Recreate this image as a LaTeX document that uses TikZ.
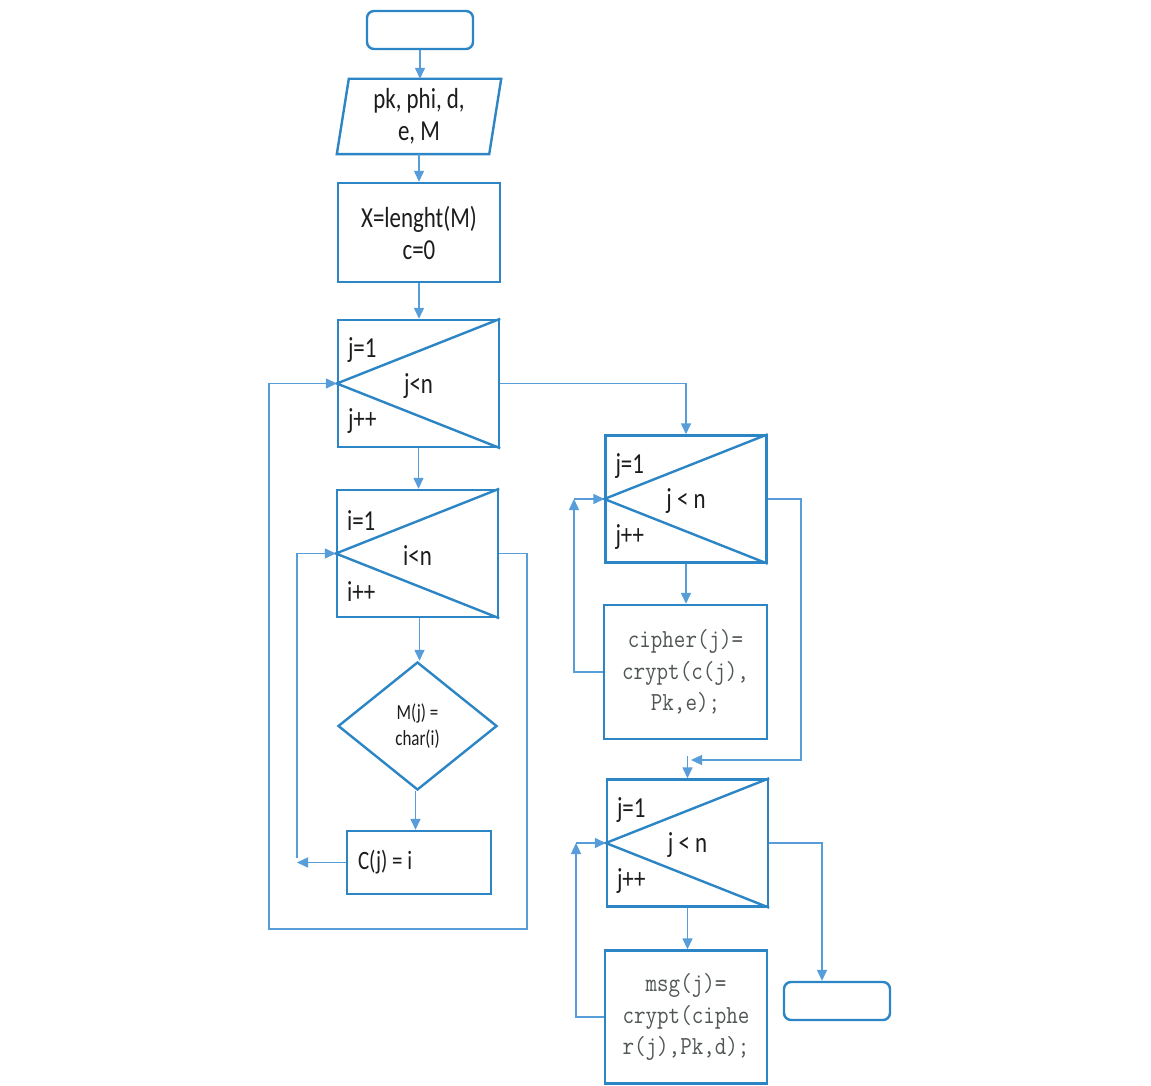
\documentclass[tikz,border=0pt]{standalone}
\usepackage{fontspec}
\setmainfont{Carlito}
\usetikzlibrary{arrows.meta,shapes.geometric}
\definecolor{bord}{RGB}{44,133,196}
\definecolor{conn}{RGB}{86,157,217}
\definecolor{txt}{RGB}{28,28,28}
\definecolor{codetxt}{RGB}{80,86,86}
\newcommand\sqz[1]{\scalebox{0.79}[1]{#1}}
\newcommand\sqm[1]{\scalebox{0.86}[1]{#1}}
\newcommand\loopbox[6]{%
  \node[lbox] (#1) at (#2,#3) {};
  \draw[boxline] (#1.north east) -- (#1.west) -- (#1.south east);
  \node[ltext, anchor=west] (#1-a) at ([xshift=11pt,yshift=33pt]#1.west) {\sqz{#4}};
  \node[ltext] (#1-b) at ([yshift=-2.5pt]#1.center) {\sqz{#5}};
  \node[ltext, anchor=west] (#1-c) at ([xshift=11pt,yshift=-38pt]#1.west) {\sqz{#6}};
}
\begin{document}
\begin{tikzpicture}[x=1pt,y=-1pt,
  boxline/.style={draw=bord,line width=2.4pt},
  proc/.style={boxline,inner sep=0pt,align=center,text=txt,font=\fontsize{29}{32}\selectfont},
  term/.style={boxline,rounded corners=7pt,minimum width=106pt,minimum height=38pt},
  lbox/.style={boxline,minimum width=161pt,minimum height=127pt,inner sep=0pt},
  ltext/.style={inner sep=0pt,text=txt,font=\fontsize{29}{32}\selectfont},
  code/.style={boxline,inner sep=0pt,align=center,text=codetxt,font=\ttfamily\fontsize{26}{31.5}\selectfont},
  arr/.style={draw=conn,line width=1.4pt,-{Triangle[length=11pt,width=10pt]}},
  cline/.style={draw=conn,line width=1.4pt}]
\fill[white] (0,0) rectangle (1151,1086);
\useasboundingbox (0,0) rectangle (1151,1086);

% left column
\node[term] (start) at (420,30) {};
\node[proc, draw=none, minimum width=150pt, minimum height=73pt] (inp) at (419,116.5) {\sqz{pk, phi, d,}\\\sqz{e, M}};
\draw[boxline] ([xshift=6pt]inp.north west) -- ([xshift=6pt]inp.north east) -- ([xshift=-6pt]inp.south east) -- ([xshift=-6pt]inp.south west) -- cycle;
\node[proc, minimum width=162pt, minimum height=99pt] (init) at (419,232.5) {\sqz{X=lenght(M)}\\\sqz{c=0}};
\loopbox{b1}{418.5}{383.5}{j=1}{j<n}{j++}
\loopbox{b2}{417.5}{553.5}{i=1}{i<n}{i++}
\node[boxline, diamond, minimum width=159pt, minimum height=128pt, inner sep=0pt, align=center, text=txt, font=\fontsize{21.5}{26}\selectfont] (dia) at (417.5,726) {\sqz{M(j) =}\\\sqz{char(i)}};
\node[boxline, minimum width=144pt, minimum height=63pt, inner sep=0pt] (cj) at (419,862.5) {};
\node[anchor=west, inner sep=0pt, text=txt, font=\fontsize{26.5}{30}\selectfont] (cj-t) at ([xshift=12pt]cj.west) {\sqz{C(j) = i}};

% right column
\loopbox{b3}{686}{499}{j=1}{j < n}{j++}
\node[code, minimum width=163pt, minimum height=134pt] (ciph) at (685.5,672) {\sqm{cipher(j)=}\\\sqm{crypt(c(j),}\\\sqm{Pk,e);}};
\loopbox{b4}{687.5}{843}{j=1}{j < n}{j++}
\node[code, minimum width=162pt, minimum height=133pt] (msg) at (686,1017) {\sqm{msg(j)=}\\\sqm{crypt(ciphe}\\\sqm{r(j),Pk,d);}};
\node[term] (end) at (837,1001) {};

% connectors
\draw[arr] (start.south) -- (start.south |- inp.north);
\draw[arr] (inp.south) -- (init.north);
\draw[arr] (init.south) -- (init.south |- b1.north);
\draw[arr] (b1.south) -- (b1.south |- b2.north);
\draw[arr] ([xshift=2pt]b2.south) -- ([xshift=2pt]b2.south |- dia.north);
\draw[arr] ([xshift=-2pt]dia.south) -- ([xshift=-2pt]dia.south |- cj.north);
\coordinate (ret1) at (297,862.5);
\draw[arr] (cj.west) -- (ret1);
\draw[arr] ([yshift=5pt]ret1) |- (b2.west);
\coordinate (o1) at (527,929);
\coordinate (o2) at (269,929);
\draw[arr] (b2.east) -| (o1) -- (o2) |- (b1.west);
\draw[arr] (b1.east) -| (b3.north);
\draw[arr] (b3.south) -- (b3.south |- ciph.north);
\coordinate (ret3) at (574,499);
\draw[arr] (ciph.west) -| (ret3);
\draw[arr] (ret3) -- (b3.west);
\coordinate (x3) at (801,760);
\coordinate (x3e) at (691,760);
\draw[arr] (b3.east) -| (x3) -- (x3e);
\draw[arr] ([yshift=22pt]b4.north) -- (b4.north);
\draw[arr] (b4.south) -- (b4.south |- msg.north);
\coordinate (ret4) at (576,843);
\draw[arr] (msg.west) -| (ret4);
\draw[arr] (ret4) -- (b4.west);
\draw[arr] (b4.east) -| ([xshift=-15pt]end.north);
\end{tikzpicture}
\end{document}
